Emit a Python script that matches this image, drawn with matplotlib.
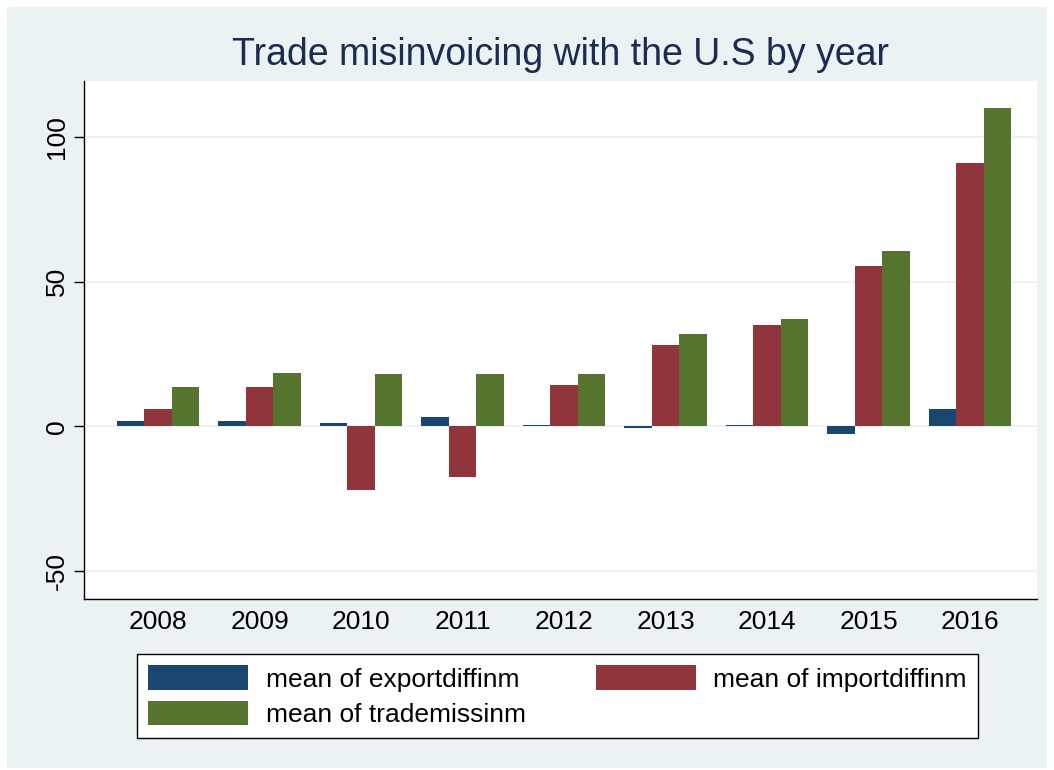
import numpy as np
import matplotlib.pyplot as plt
from matplotlib.patches import Rectangle

plt.rcParams['font.family'] = ['Liberation Sans', 'DejaVu Sans']

years = ['2008', '2009', '2010', '2011', '2012', '2013', '2014', '2015', '2016']
exportdiff = [1.7, 1.9, 1.1, 3.2, 0.4, -0.6, 0.4, -2.6, 5.9]
importdiff = [5.9, 13.4, -21.9, -17.4, 14.2, 28.0, 34.9, 55.2, 91.0]
trademiss = [13.6, 18.4, 18.0, 18.0, 18.0, 32.0, 37.0, 60.7, 110.0]

labels = ['mean of exportdiffinm', 'mean of importdiffinm', 'mean of trademissinm']
colors = ['#1a476f', '#90353b', '#55752f']

W, H = 1054, 770
fig = plt.figure(figsize=(W / 100, H / 100), dpi=100)
fig.patch.set_facecolor('white')
fig.patches.append(Rectangle((7 / W, 2 / H), (1047 - 7) / W, (763 - 2) / H,
                             transform=fig.transFigure, facecolor='#eaf2f3',
                             edgecolor='none', zorder=-10))

ax = fig.add_axes([84 / W, 1 - 599 / H, (1037 - 84) / W, (599 - 81) / H])
ax.set_facecolor('white')

x = np.arange(len(years))
bw = 0.272
bars = []
for i, (vals, lab, c) in enumerate(zip([exportdiff, importdiff, trademiss], labels, colors)):
    bars.append(ax.bar(x + (i - 1) * bw, vals, width=bw, color=c, label=lab, zorder=3))

ax.set_xlim(-0.73, 8.66)
ax.set_ylim(-59.7, 119.3)
ax.set_yticks([-50, 0, 50, 100])
ax.set_yticklabels(['-50', '0', '50', '100'], rotation=90, va='center')
ax.set_xticks(x)
ax.set_xticklabels(years)
ax.tick_params(axis='y', length=7, width=1, labelsize=19, pad=4)
ax.tick_params(axis='x', length=0, labelsize=19, pad=8)
ax.grid(axis='y', color='#eaf2f3', linewidth=1.5, zorder=0)
for s in ['top', 'right']:
    ax.spines[s].set_visible(False)
ax.spines['left'].set_linewidth(1)
ax.spines['bottom'].set_linewidth(1)

fig.text(560 / W, 1 - 55 / H, 'Trade misinvoicing with the U.S by year',
         ha='center', va='center', fontsize=27, color='#1c2b50')

# matplotlib fills legend columns first, so reorder to get row-wise layout
order = [0, 2, 1]
leg = fig.legend([bars[k] for k in order], [labels[k] for k in order],
                 loc='lower left',
                 bbox_to_anchor=(137 / W, 1 - 738 / H, (978 - 137) / W, (738 - 652) / H),
                 mode='expand', ncol=2, fontsize=19, frameon=True, fancybox=False,
                 framealpha=1, handlelength=3.8, handleheight=1.06, handletextpad=0.65,
                 borderaxespad=0, borderpad=0.42, labelspacing=0.34, columnspacing=2)
leg.get_frame().set_edgecolor('black')
leg.get_frame().set_linewidth(1)

fig.savefig('out.png', dpi=100, facecolor=fig.get_facecolor())
